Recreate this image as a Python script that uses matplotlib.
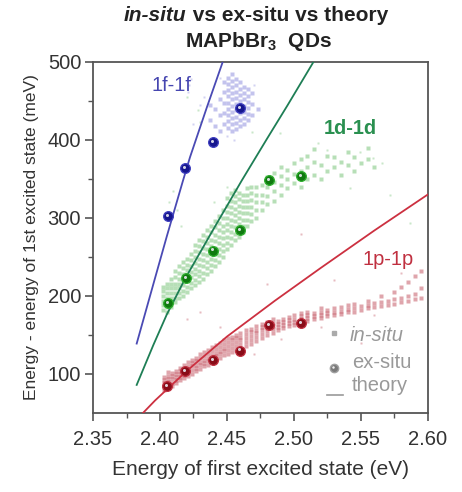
import matplotlib
matplotlib.use("Agg")
import matplotlib.pyplot as plt
from matplotlib.transforms import offset_copy
import numpy as np

plt.rcParams['font.family'] = ['Liberation Sans', 'DejaVu Sans']
plt.rcParams['mathtext.fontset'] = 'custom'
plt.rcParams['mathtext.rm'] = 'Liberation Sans'
plt.rcParams['mathtext.bf'] = 'Liberation Sans:bold'

# ---------------- data ----------------
# ex-situ points (x in eV, y in meV)
exsitu_f_x = [2.4057, 2.4187, 2.4396, 2.4597]
exsitu_f_y = [302, 364, 397, 441]
exsitu_d_x = [2.4057, 2.4192, 2.4393, 2.4597, 2.4816, 2.505]
exsitu_d_y = [191, 223, 258, 284, 349, 354]
exsitu_p_x = [2.405, 2.4187, 2.4396, 2.4600, 2.4813, 2.505]
exsitu_p_y = [84, 104, 118, 130, 163, 165]

# theory curves
theory_f_x = [2.3826, 2.395, 2.405, 2.417, 2.4224, 2.435, 2.4468]
theory_f_y = [139, 215, 276, 347, 378, 442, 500]
theory_d_x = [2.3826, 2.395, 2.405, 2.419, 2.44, 2.461, 2.48, 2.495, 2.5145]
theory_d_y = [86, 137, 176, 223, 286, 348, 402, 444, 500]
theory_p_x = [2.3873, 2.3963, 2.42, 2.45, 2.4858, 2.52, 2.56, 2.6015]
theory_p_y = [50, 66, 104, 148, 194, 236, 284, 332]

# in-situ clouds: x stripe -> y values
insitu_f = {
    2.437: [426, 445],
    2.441: [418, 440],
    2.445: [412, 432, 452],
    2.448: [420, 434, 448, 462, 474],
    2.451: [416, 424, 432, 440, 448, 456, 464, 472, 480],
    2.454: [412, 420, 428, 436, 444, 452, 460, 468, 476, 484],
    2.457: [414, 422, 430, 438, 446, 454, 462, 470, 478],
    2.460: [418, 426, 434, 442, 450, 458, 466, 474],
    2.463: [420, 428, 436, 444, 452, 460, 468],
    2.466: [425, 433, 441, 449, 457, 465],
    2.469: [432, 446, 460],
    2.473: [440],
}
insitu_f_extra_x = [2.421, 2.422, 2.423, 2.425, 2.430, 2.433, 2.440, 2.450, 2.455, 2.470, 2.445]
insitu_f_extra_y = [462, 470, 478, 420, 445, 455, 400, 405, 400, 470, 480]

insitu_d = {
    2.402: [182, 188, 194, 200, 206, 212],
    2.405: [180, 186, 192, 198, 204, 210, 216],
    2.408: [186, 192, 198, 204, 210, 216, 222],
    2.411: [192, 198, 204, 210, 216, 224, 232],
    2.414: [198, 204, 210, 216, 222, 230, 238],
    2.417: [200, 207, 214, 221, 228, 236, 244],
    2.420: [205, 212, 219, 226, 233, 240, 248],
    2.423: [210, 217, 224, 231, 238, 246, 254],
    2.426: [214, 221, 228, 235, 242, 250, 258, 266],
    2.429: [218, 225, 232, 240, 248, 256, 264, 272],
    2.432: [222, 230, 238, 246, 254, 262, 270, 278],
    2.435: [228, 236, 244, 252, 260, 268, 276, 284],
    2.438: [232, 240, 248, 256, 264, 272, 282, 290],
    2.441: [238, 246, 254, 262, 270, 278, 288, 296],
    2.444: [244, 252, 260, 268, 276, 284, 294, 302],
    2.447: [250, 258, 266, 274, 282, 290, 300, 310],
    2.450: [260, 268, 276, 284, 292, 300, 308, 316, 326],
    2.453: [266, 274, 282, 290, 298, 306, 314, 322, 332],
    2.456: [272, 280, 288, 296, 304, 312, 320, 328, 336],
    2.459: [276, 284, 292, 300, 308, 316, 324, 332],
    2.462: [282, 290, 298, 306, 314, 322, 330],
    2.465: [290, 298, 306, 314, 322, 330, 338],
    2.468: [296, 305, 314, 323, 332, 340],
    2.472: [300, 310, 320, 330, 340],
    2.476: [310, 320, 330, 342],
    2.480: [318, 328, 340, 352],
    2.485: [322, 334, 346, 358],
    2.490: [330, 342, 354, 366],
    2.495: [338, 350, 362],
    2.500: [345, 356, 370],
    2.505: [340, 360, 375],
    2.510: [350, 365, 380],
    2.515: [355, 372, 388],
    2.520: [350, 368],
    2.525: [360, 380],
    2.530: [365, 378],
    2.535: [355, 372],
    2.540: [368, 385],
    2.545: [360, 378],
    2.550: [370],
    2.555: [375, 390],
    2.560: [365],
}
insitu_d_extra_x = [2.404, 2.407, 2.410, 2.413, 2.416, 2.420, 2.428, 2.430, 2.440, 2.450,
                    2.469, 2.4896, 2.518, 2.5246, 2.549, 2.559, 2.566, 2.542, 2.5716, 2.5866]
insitu_d_extra_y = [300, 320, 335, 310, 290, 455, 438, 423, 320, 340,
                    410, 409, 396, 387, 384, 377, 371, 339, 329, 294]

insitu_p = {
    2.403: [80, 84, 88, 92, 96],
    2.406: [82, 86, 90, 94, 98, 102],
    2.409: [85, 89, 93, 97, 101],
    2.412: [88, 92, 96, 100, 104],
    2.415: [92, 96, 100, 104, 108],
    2.418: [95, 99, 103, 107, 112],
    2.421: [98, 102, 106, 110, 115],
    2.424: [100, 105, 110, 114, 118],
    2.427: [104, 108, 112, 117, 121],
    2.430: [106, 111, 115, 120, 125],
    2.433: [110, 114, 118, 123, 128],
    2.436: [112, 117, 121, 126, 131],
    2.439: [115, 120, 124, 129, 134],
    2.442: [118, 123, 127, 132, 137],
    2.445: [121, 126, 130, 135, 140],
    2.448: [124, 129, 133, 138, 143],
    2.451: [126, 131, 136, 141, 146],
    2.454: [128, 133, 138, 143, 148],
    2.457: [131, 136, 141, 146, 150],
    2.460: [133, 138, 143, 148, 153],
    2.464: [136, 141, 146, 151, 156],
    2.468: [139, 144, 149, 154, 158],
    2.472: [142, 147, 152, 157, 161],
    2.476: [146, 151, 156, 160, 164],
    2.480: [150, 155, 159, 163, 167],
    2.484: [153, 158, 162, 166, 170],
    2.488: [156, 160, 164, 168],
    2.492: [159, 163, 167, 171],
    2.496: [161, 165, 169, 173],
    2.500: [163, 167, 171, 175],
    2.505: [166, 170, 174, 178],
    2.510: [168, 172, 176, 180],
    2.515: [170, 174, 178],
    2.520: [172, 176, 180, 184],
    2.525: [174, 178, 182],
    2.530: [176, 180, 184],
    2.535: [177, 181, 186],
    2.540: [179, 183, 188],
    2.545: [180, 185, 190],
    2.550: [182, 187],
    2.555: [184, 189, 194],
    2.560: [186, 191],
    2.565: [187, 192, 200],
    2.570: [189, 194],
    2.575: [190, 196, 205],
    2.580: [192, 198, 212],
    2.585: [194, 200, 218],
    2.590: [196, 202, 225],
    2.595: [198, 210, 232],
}
insitu_p_extra_x = [2.420, 2.430, 2.445, 2.470, 2.490, 2.520, 2.530, 2.505, 2.480, 2.550, 2.580, 2.560]
insitu_p_extra_y = [170, 180, 160, 125, 145, 160, 220, 280, 215, 140, 230, 175]

x_ticks = [2.35, 2.40, 2.45, 2.50, 2.55, 2.60]
y_ticks = [100, 200, 300, 400, 500]

# ---------------- style ----------------
c_f_pt, c_f_line, c_f_txt = '#6a6ad4', '#4a4ab4', '#4646b0'
c_d_pt, c_d_line, c_d_txt = '#4cb04c', '#1e7e55', '#2a9050'
c_p_pt, c_p_line, c_p_txt = '#b02030', '#cc3040', '#c03040'
balls = [('#16168e', '#4040c0'), ('#0f7a0f', '#30b030'), ('#8a0c18', '#c03040')]
axcol = '#555555'


def flatten(d):
    xs, ys = [], []
    for k, v in d.items():
        xs.extend([k] * len(v))
        ys.extend(v)
    return xs, ys


fig = plt.figure(figsize=(4.62, 4.92), dpi=100)
ax = fig.add_axes([0.2013, 0.1606, 0.7251, 0.7134])

for d, ex_x, ex_y, col in [(insitu_f, insitu_f_extra_x, insitu_f_extra_y, c_f_pt),
                           (insitu_d, insitu_d_extra_x, insitu_d_extra_y, c_d_pt),
                           (insitu_p, insitu_p_extra_x, insitu_p_extra_y, c_p_pt)]:
    xs, ys = flatten(d)
    ax.plot(xs, ys, ls='none', marker='s', ms=2.5, mec='none', mfc=col, alpha=0.4, zorder=2)
    ax.plot(ex_x, ex_y, ls='none', marker='s', ms=2.0, mec='none', mfc=col, alpha=0.3, zorder=2)

ax.plot(theory_f_x, theory_f_y, color=c_f_line, lw=1.3, zorder=3)
ax.plot(theory_d_x, theory_d_y, color=c_d_line, lw=1.3, zorder=3)
ax.plot(theory_p_x, theory_p_y, color=c_p_line, lw=1.3, zorder=3)

hl = offset_copy(ax.transData, fig=fig, x=-0.8, y=0.9, units='points')
for (xs, ys), (fc, ec) in zip([(exsitu_f_x, exsitu_f_y), (exsitu_d_x, exsitu_d_y),
                               (exsitu_p_x, exsitu_p_y)], balls):
    ax.plot(xs, ys, ls='none', marker='o', ms=7, mfc=fc, mec=ec, mew=0.9, zorder=4)
    ax.plot(xs, ys, ls='none', marker='o', ms=2.2, mfc='#e8e8f0', mec='none', alpha=0.9,
            zorder=5, transform=hl)

ax.text(2.4087, 470, '1f-1f', color=c_f_txt, fontsize=14.4, ha='center', va='center')
ax.text(2.5418, 415, '1d-1d', color=c_d_txt, fontsize=14.4, ha='center', va='center', fontweight='bold')
ax.text(2.570, 247, '1p-1p', color=c_p_txt, fontsize=14.4, ha='center', va='center')

# legend (manual)
gray = '#999999'
ax.plot([0.719], [0.228], transform=ax.transAxes, marker='s', ms=2.2, color='#aaaaaa', ls='none')
ax.text(0.767, 0.222, 'in-situ', transform=ax.transAxes, color=gray, fontsize=14.5,
        style='italic', va='center', ha='left')
ax.plot([0.719], [0.128], transform=ax.transAxes, marker='o', ms=6, mfc='#7a7a7a', mec='#a0a0a0', ls='none')
hl2 = offset_copy(ax.transAxes, fig=fig, x=-0.7, y=0.8, units='points')
ax.plot([0.719], [0.128], transform=hl2, marker='o', ms=1.8, mfc='#eeeeee', mec='none', ls='none')
ax.text(0.773, 0.145, 'ex-situ', transform=ax.transAxes, color=gray, fontsize=14.5, va='center', ha='left')
ax.plot([0.699, 0.746], [0.051, 0.051], transform=ax.transAxes, color=gray, lw=1.2)
ax.text(0.773, 0.077, 'theory', transform=ax.transAxes, color=gray, fontsize=14.5, va='center', ha='left')

ax.set_xlim(2.35, 2.60)
ax.set_ylim(50, 500)
ax.set_xticks(x_ticks)
ax.set_xticklabels([f'{v:.2f}' for v in x_ticks])
ax.set_yticks(y_ticks)
ax.set_xticks(np.arange(2.375, 2.60, 0.05), minor=True)
ax.set_yticks([150, 250, 350, 450], minor=True)
ax.tick_params(which='major', direction='out', length=6, width=1.2, color=axcol,
               labelsize=14.5, labelcolor='#333333', top=False, right=False, pad=2.5)
ax.tick_params(axis='x', which='major', pad=6.5)
ax.tick_params(which='minor', direction='out', length=3.5, width=1.0, color=axcol,
               top=False, right=False)
for s in ax.spines.values():
    s.set_color(axcol)
    s.set_linewidth(1.3)

ax.set_xlabel('Energy of first excited state (eV)', fontsize=15, color='#333333', labelpad=8)
ax.set_ylabel('Energy - energy of 1st excited state (meV)', fontsize=12.5, color='#333333', labelpad=6.5)

# title with mixed italic
fig.canvas.draw()
r = fig.canvas.get_renderer()
t1 = fig.text(0, 0.9695, 'in-situ', fontsize=15, fontweight='bold', style='italic', color='#222222', va='center')
t2 = fig.text(0, 0.9695, ' vs ex-situ vs theory', fontsize=15, fontweight='bold', color='#222222', va='center')
w1 = t1.get_window_extent(r).width
w2 = t2.get_window_extent(r).width
cx = 256
x0 = cx - (w1 + w2) / 2
t1.set_x(x0 / 462)
t2.set_x((x0 + w1) / 462)
fig.text(258 / 462, 0.915, r'MAPbBr$_\mathbf{3}$  QDs', fontsize=15, fontweight='bold',
         color='#222222', ha='center', va='center')

fig.savefig('out.png', dpi=100)
